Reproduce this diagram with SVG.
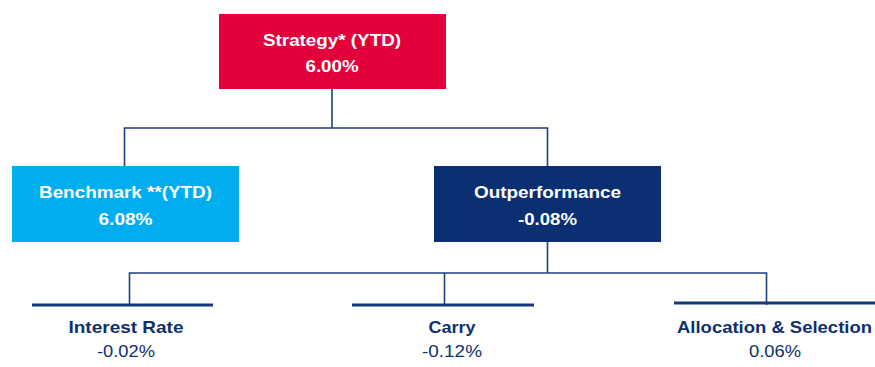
<svg xmlns="http://www.w3.org/2000/svg" width="875" height="367" viewBox="0 0 875 367">
  <style>
    .conn { stroke: #1c3f80; stroke-width: 1.6; fill: none; }
    .bar { stroke: #143a7a; stroke-width: 3; fill: none; }
    .box-t { font-family: "Liberation Sans", Arial, sans-serif; font-weight: bold; font-size: 17px; fill: #ffffff; text-anchor: middle; }
    .leaf-t { font-family: "Liberation Sans", Arial, sans-serif; font-weight: bold; font-size: 17px; fill: #0f2f6e; text-anchor: middle; }
    .leaf-v { font-family: "Liberation Sans", Arial, sans-serif; font-size: 17px; fill: #0f2f6e; text-anchor: middle; }
  </style>
  <rect width="875" height="367" fill="#ffffff"/>

  <g id="connectors">
    <path class="conn" d="M332 89 V128 M124.5 166 V128 H547.5 V166"/>
    <path class="conn" d="M547.5 242 V273 M129.5 305 V273 H766.5 V305 M444.5 273 V305"/>
  </g>

  <g id="strategy">
    <rect x="219" y="14" width="227" height="75" fill="#e4003a"/>
    <text class="box-t" x="332" y="46" textLength="138" lengthAdjust="spacingAndGlyphs">Strategy* (YTD)</text>
    <text class="box-t" x="332" y="72" textLength="53" lengthAdjust="spacingAndGlyphs">6.00%</text>
  </g>

  <g id="benchmark">
    <rect x="12" y="166" width="227" height="76" fill="#00aeef"/>
    <text class="box-t" x="125.5" y="198" textLength="173" lengthAdjust="spacingAndGlyphs">Benchmark **(YTD)</text>
    <text class="box-t" x="125.5" y="225" textLength="54" lengthAdjust="spacingAndGlyphs">6.08%</text>
  </g>

  <g id="outperformance">
    <rect x="434" y="166" width="227" height="76" fill="#0a2f73"/>
    <text class="box-t" x="547.5" y="198" textLength="147" lengthAdjust="spacingAndGlyphs">Outperformance</text>
    <text class="box-t" x="547.5" y="225" textLength="59" lengthAdjust="spacingAndGlyphs">-0.08%</text>
  </g>

  <g id="interest-rate">
    <line class="bar" x1="32" y1="305" x2="213" y2="305"/>
    <text class="leaf-t" x="126" y="333" textLength="115" lengthAdjust="spacingAndGlyphs">Interest Rate</text>
    <text class="leaf-v" x="126" y="357" textLength="58" lengthAdjust="spacingAndGlyphs">-0.02%</text>
  </g>

  <g id="carry">
    <line class="bar" x1="352" y1="305" x2="534" y2="305"/>
    <text class="leaf-t" x="452" y="333" textLength="47" lengthAdjust="spacingAndGlyphs">Carry</text>
    <text class="leaf-v" x="452" y="357" textLength="60" lengthAdjust="spacingAndGlyphs">-0.12%</text>
  </g>

  <g id="allocation-selection">
    <line class="bar" x1="674" y1="303" x2="875" y2="303"/>
    <text class="leaf-t" x="774.5" y="333" textLength="195" lengthAdjust="spacingAndGlyphs">Allocation &amp; Selection</text>
    <text class="leaf-v" x="775" y="357" textLength="52" lengthAdjust="spacingAndGlyphs">0.06%</text>
  </g>
</svg>
